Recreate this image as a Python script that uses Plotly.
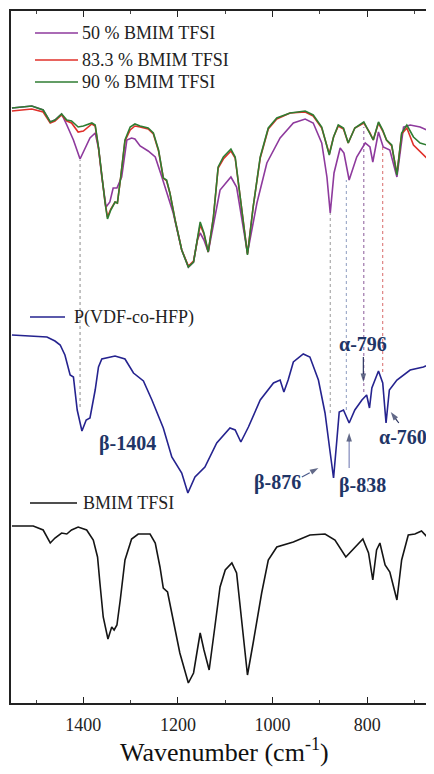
import plotly.graph_objects as go

# ---------------- data (wavenumber cm-1, transmittance a.u.) ----------------
wn_comp = [1551, 1509, 1485, 1470, 1460, 1446, 1435, 1425, 1411, 1400, 1382, 1375, 1368, 1361,
           1354, 1349, 1342, 1333, 1328, 1321, 1312, 1301, 1291, 1280, 1263, 1252, 1241, 1231,
           1224, 1217, 1206, 1192, 1178, 1167, 1159, 1153, 1145, 1136, 1125, 1115, 1104, 1088,
           1079, 1069, 1053, 1041, 1026, 1009, 991, 963, 931, 914, 896, 880, 871, 861, 850, 840,
           826, 807, 794, 787, 776, 767, 759, 748, 737, 727, 716, 702, 688, 674, 659]
t_90 = [595, 597, 593, 581, 583, 589, 583, 582, 576, 577, 580, 578, 556, 526,
        500, 484, 493, 501, 500, 526, 563, 576, 579, 577, 575, 570, 553, 525,
        523, 510, 483, 453, 436, 441, 466, 481, 470, 451, 486, 536, 546, 554,
        546, 506, 448, 496, 546, 575, 585, 590, 592, 588, 576, 548, 566, 578, 575, 560,
        575, 581, 570, 563, 581, 573, 563, 558, 528, 570, 578, 566, 560, 558, 546]
t_833 = [592, 594, 591, 580, 582, 588, 582, 580, 571, 572, 579, 577, 555, 526,
         500, 486, 494, 501, 500, 526, 562, 573, 577, 576, 574, 569, 552, 525,
         522, 510, 483, 453, 437, 442, 464, 478, 469, 451, 486, 535, 544, 552,
         545, 506, 449, 496, 545, 574, 584, 590, 591, 587, 575, 549, 566, 577, 574, 560,
         575, 580, 570, 563, 580, 572, 563, 557, 529, 569, 575, 558, 551, 545, 531]

wn_50 = [1551, 1509, 1485, 1470, 1460, 1446, 1435, 1421, 1407, 1396, 1386, 1375, 1368, 1361,
         1352, 1344, 1337, 1329, 1319, 1308, 1298, 1291, 1280, 1263, 1248, 1234, 1224, 1210,
         1192, 1178, 1167, 1159, 1153, 1145, 1136, 1125, 1111, 1088, 1076, 1053, 1033, 1012,
         984, 956, 931, 914, 896, 885, 878, 870, 857, 849, 838, 822, 804, 794, 788, 776, 766,
         752, 737, 723, 709, 688, 674, 659]
t_50 = [595, 597, 593, 581, 583, 589, 578, 563, 544, 555, 565, 570, 555, 526,
        496, 501, 515, 515, 526, 563, 565, 564, 557, 552, 546, 526, 511, 490,
        453, 436, 441, 463, 470, 463, 451, 478, 513, 526, 516, 450, 500, 540,
        565, 580, 584, 580, 560, 526, 490, 530, 555, 550, 523, 546, 560, 556, 541, 571, 556,
        553, 526, 576, 578, 576, 573, 563]

wn_pvdf = [1551, 1477, 1460, 1449, 1439, 1428, 1421, 1413, 1403, 1394, 1386, 1375, 1368, 1361,
           1333, 1312, 1294, 1273, 1255, 1231, 1213, 1192, 1179, 1164, 1143, 1118, 1090, 1079,
           1067, 1051, 1026, 998, 984, 976, 967, 956, 935, 921, 903, 889, 878, 871, 864, 859,
           850, 838, 826, 811, 801, 795, 790, 776, 767, 760, 753, 737, 709, 681, 660]
t_pvdf = [368, 366, 362, 358, 348, 328, 326, 293, 272, 283, 285, 313, 336, 344,
          347, 344, 330, 322, 303, 275, 246, 230, 210, 226, 236, 260, 275, 273,
          261, 276, 303, 320, 323, 311, 323, 341, 349, 346, 323, 290, 250, 225, 263, 291,
          293, 280, 293, 303, 308, 295, 315, 332, 320, 280, 313, 323, 333, 336, 340]

wn_il = [1551, 1506, 1485, 1470, 1460, 1446, 1435, 1425, 1411, 1393, 1379, 1370, 1365, 1358,
         1348, 1340, 1335, 1329, 1322, 1312, 1298, 1284, 1259, 1248, 1238, 1231, 1222, 1210,
         1196, 1178, 1167, 1159, 1153, 1145, 1134, 1122, 1111, 1100, 1086, 1076, 1065, 1053,
         1041, 1023, 1009, 991, 956, 921, 889, 868, 845, 826, 809, 797, 788, 780, 773, 762,
         752, 737, 727, 713, 699, 685, 671, 659]
t_il = [177, 177, 173, 160, 165, 170, 169, 173, 176, 173, 163, 146, 120, 86,
        64, 76, 73, 78, 103, 143, 164, 169, 169, 160, 136, 115, 111, 83,
        50, 20, 30, 53, 70, 53, 33, 76, 116, 133, 140, 130, 83, 28,
        60, 110, 143, 156, 161, 168, 169, 163, 146, 155, 164, 150, 123, 153, 160, 138,
        131, 103, 143, 168, 169, 172, 165, 146]

series_names = ["50 % BMIM TFSI", "83.3 % BMIM TFSI", "90 % BMIM TFSI",
                "P(VDF-co-HFP)", "BMIM TFSI"]
series_colors = ["#8e3a9d", "#e0302a", "#2f7d32", "#25238f", "#151515"]

# dotted guide lines at assigned bands
guide_wn = [1407, 878, 844, 807, 767]
guide_top = [543, 490, 523, 576, 556]
guide_bottom = [296, 290, 293, 311, 331]
guide_colors = ["#8a8a8a", "#9a9a9a", "#8e9cc0", "#8a5a9a", "#d86a6a"]

band_labels = ["β-1404", "β-876", "β-838", "α-796", "α-760"]
band_label_wn = [1307, 989, 809, 809, 724]
band_label_t = [260, 221, 218, 359, 266]

# arrows: tail -> head
arrow_tail_wn = [938, 838, 808, 733]
arrow_tail_t = [226, 235, 346, 280]
arrow_head_wn = [903, 838, 808, 750]
arrow_head_t = [235, 270, 321, 291]
arrow_dash = ["dash", "solid", "solid", "solid"]
arrow_colors = ["#4a5a8a", "#8088bb", "#2c3560", "#2c3560"]

x_ticks = [1400, 1200, 1000, 800]
x_range = [1553, 658.6]
y_range = [0, 692]

# ---------------- figure ----------------
# the page body has an 8 px default margin; the figure is sized to fill the rest
OFF = 8
FIG_W, FIG_H = 434 - OFF, 774 - OFF
L, T_, B = 11, 11, 703          # plot area edges in window pixels
fig = go.Figure()
data = [(wn_50, t_50), (wn_comp, t_833), (wn_comp, t_90), (wn_pvdf, t_pvdf), (wn_il, t_il)]
for (x, y), name, col in zip(data, series_names, series_colors):
    fig.add_trace(go.Scatter(x=x, y=y, mode="lines", name=name,
                             line=dict(color=col, width=1.6), showlegend=False))

for w, t0, t1, c in zip(guide_wn, guide_top, guide_bottom, guide_colors):
    fig.add_shape(type="line", xref="x", yref="y", x0=w, x1=w, y0=t1, y1=t0,
                  line=dict(color=c, width=1, dash="dot"), layer="below")

navy = "#1f3566"
for txt, w, t in zip(band_labels, band_label_wn, band_label_t):
    fig.add_annotation(x=w, y=t, xref="x", yref="y", text="<b>%s</b>" % txt, showarrow=False,
                       font=dict(family="Liberation Serif", size=20, color=navy))

for tx, ty, hx, hy, d, c in zip(arrow_tail_wn, arrow_tail_t, arrow_head_wn, arrow_head_t,
                                arrow_dash, arrow_colors):
    fig.add_trace(go.Scatter(x=[tx, hx], y=[ty, hy], mode="lines+markers", showlegend=False,
                             line=dict(color=c, width=1.2, dash=d),
                             marker=dict(symbol=["circle", "arrow"], size=[0, 9],
                                         angleref="previous", color="#1f2a55",
                                         line=dict(width=0)),
                             hoverinfo="skip"))

W, H = 434 - L, B - T_
def px(x):
    return (x - L) / W
def py(y):
    return (B - y) / H

legend_items = [(0, 35, 78, 33, 80), (1, 35, 78, 60, 80), (2, 35, 78, 82, 80),
                (3, 30, 65, 317, 72), (4, 30, 77, 503, 81)]
for idx, x0, x1, yy, xt in legend_items:
    fig.add_shape(type="line", xref="paper", yref="paper", x0=px(x0), x1=px(x1),
                  y0=py(yy), y1=py(yy), line=dict(color=series_colors[idx], width=1.6))
    fig.add_annotation(x=px(xt), y=py(yy), xref="paper", yref="paper", xanchor="left",
                       yanchor="middle", text=series_names[idx], showarrow=False,
                       font=dict(family="Liberation Serif", size=18, color="#222"))

fig.add_annotation(x=px(225), y=py(769), xref="paper", yref="paper", showarrow=False,
                   text="Wavenumber (cm<sup>-1</sup>)", xanchor="center", yanchor="bottom",
                   font=dict(family="Liberation Serif", size=26, color="#111"))

fig.update_layout(
    width=FIG_W, height=FIG_H,
    margin=dict(l=L - OFF, r=0, t=T_ - OFF, b=774 - B),
    paper_bgcolor="white", plot_bgcolor="white",
    showlegend=False,
    xaxis=dict(range=x_range, tickvals=x_ticks, ticks="inside", ticklen=6, tickwidth=1.2,
               tickcolor="#222", showline=True, linecolor="#222", linewidth=1.5,
               mirror="ticks", showgrid=False, zeroline=False,
               minor=dict(dtick=100, ticks="inside", ticklen=3, tickcolor="#444"),
               tickfont=dict(family="Liberation Serif", size=18, color="#222"),
               ticklabelstandoff=5),
    yaxis=dict(range=y_range, showticklabels=False, showline=True, linecolor="#222",
               linewidth=1.5, showgrid=False, zeroline=False, ticks=""),
)

fig.write_html("out.html")
